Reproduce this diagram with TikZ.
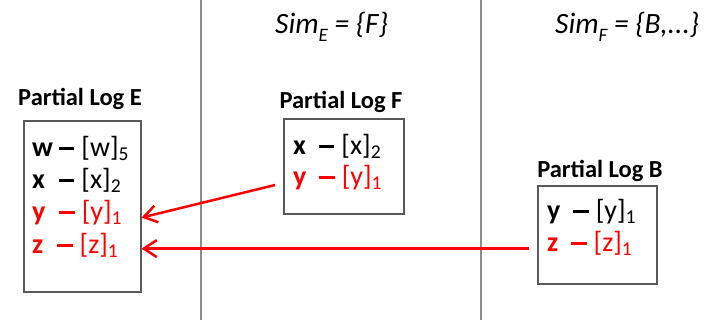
\documentclass[tikz,border=0pt]{standalone}
\usepackage{fontspec}
\setmainfont{Carlito}
\usetikzlibrary{arrows.meta,calc}

\newcommand{\simsub}[1]{\raisebox{-0.3em}{\fontsize{19}{19}\selectfont #1}}
% key, gap before the dash, version
\newcommand{\logentry}[3]{\textbf{#1}\hspace{#2}\rule[0.22em]{0.55em}{0.1em}\hspace{7pt}[#1]\textsubscript{#3}}

\begin{document}
\begin{tikzpicture}[x=1pt, y=-1pt,
    divider/.style={draw=black!45, line width=2pt},
    logbox/.style={draw=black!65, line width=1.5pt, anchor=north west, inner sep=0pt},
    logtitle/.style={font=\fontsize{24.5}{28}\selectfont\bfseries, anchor=base, inner sep=0pt},
    entry/.style={font=\fontsize{28}{32}\selectfont, anchor=base west, inner sep=0pt},
    simset/.style={font=\fontsize{29.5}{34}\selectfont\itshape, anchor=base west, inner sep=0pt},
    flow/.style={draw=red, line width=2.5pt, -{Straight Barb[length=13pt,width=17pt]}}]
        \useasboundingbox (0,0) rectangle (709,324);

        % columns
        \coordinate (d1top) at (201,0);
        \coordinate (d1bot) at (201,320);
        \coordinate (d2top) at (481,0);
        \coordinate (d2bot) at (481,320);
        \draw[divider] (d1top) -- (d1bot);
        \draw[divider] (d2top) -- (d2bot);

        \node[simset] (simE) at (275,33) {Sim\simsub{E} = \{F\}};
        \node[simset] (simF) at (555,33) {Sim\simsub{F} = \{B,...\}};

        % partial log E
        \node[logtitle] (titleE) at (80,105) {Partial Log E};
        \node[logbox, minimum width=117pt, minimum height=171pt] (logE) at (23,120) {};
        \node[entry] (Ew) at (32,156) {\logentry{w}{6pt}{5}};
        \node[entry] (Ex) at (32,188) {\logentry{x}{14pt}{2}};
        \node[entry, text=red] (Ey) at (32,220) {\logentry{y}{14pt}{1}};
        \node[entry, text=red] (Ez) at (32,253) {\logentry{z}{14pt}{1}};

        % partial log F
        \node[logtitle] (titleF) at (341,108) {Partial Log F};
        \node[logbox, minimum width=120pt, minimum height=95pt] (logF) at (283,118) {};
        \node[entry] (Fx) at (293,154) {\logentry{x}{13pt}{2}};
        \node[entry, text=red] (Fy) at (293,185) {\logentry{y}{13pt}{1}};

        % partial log B
        \node[logtitle] (titleB) at (600,177) {Partial Log B};
        \node[logbox, minimum width=119pt, minimum height=98pt] (logB) at (537,185) {};
        \node[entry] (By) at (547,219) {\logentry{y}{13pt}{1}};
        \node[entry, text=red] (Bz) at (547,251) {\logentry{z}{13pt}{1}};

        \draw[flow] ($(logF.west |- Fy.base)+(-8,0)$) -- (logE.east |- Ey.mid);
        \draw[flow] ($(logB.west |- Bz.mid)+(-8,0)$) -- (logE.east |- Bz.mid);
    \end{tikzpicture}
\end{document}
